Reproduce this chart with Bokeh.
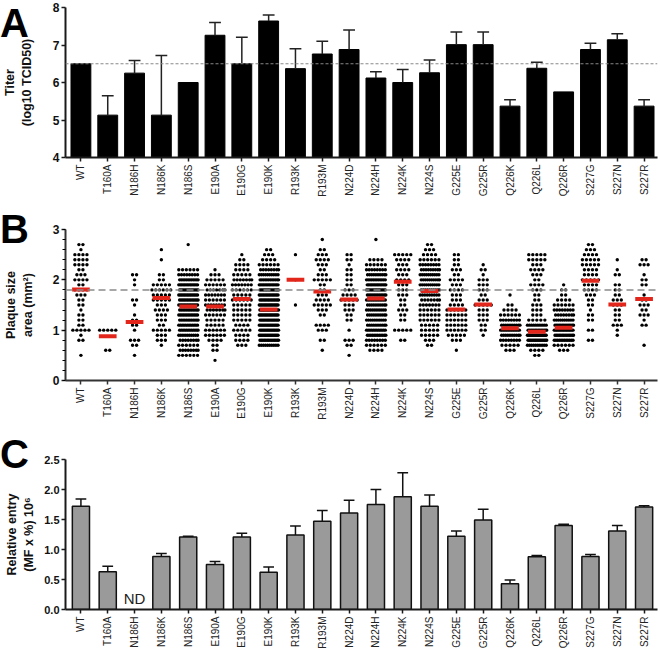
import math
from bokeh.plotting import figure
from bokeh.models import Span, Label, FixedTicker, SingleIntervalTicker, PrintfTickFormatter, Range1d, Div
from bokeh.layouts import column
from bokeh.embed import file_html
from bokeh.resources import INLINE

# ---------------- data ----------------
categories = ["WT", "T160A", "N186H", "N186K", "N186S", "E190A", "E190G", "E190K",
              "R193K", "R193M", "N224D", "N224H", "N224K", "N224S", "G225E", "G225R",
              "Q226K", "Q226L", "Q226R", "S227G", "S227N", "S227R"]

# Panel A: titer (log10 TCID50), mean and upper SD
titer_mean = [6.50, 5.13, 6.25, 5.13, 6.00, 7.26, 6.50, 7.64, 6.37, 6.76, 6.88,
              6.12, 6.00, 6.26, 7.01, 7.01, 5.37, 6.38, 5.75, 6.88, 7.14, 5.37]
titer_err = [0.00, 0.52, 0.34, 1.59, 0.00, 0.34, 0.71, 0.16, 0.53, 0.34, 0.52,
             0.17, 0.35, 0.34, 0.34, 0.34, 0.17, 0.16, 0.00, 0.17, 0.16, 0.17]
titer_wt_line = 6.5

# Panel B: plaque size area (mm^2); counts of plaques per 0.1 mm^2 row value
plaque_median = [1.81, 0.88, 1.16, 1.64, 1.47, 1.47, 1.62, 1.41, 2.00, 1.77, 1.61,
                 1.63, 1.96, 1.78, 1.41, 1.51, 1.04, 0.97, 1.05, 1.98, 1.51, 1.62]
plaque_wt_line = 1.8
plaque_WT = {2.7: 2, 2.6: 1, 2.5: 4, 2.4: 4, 2.3: 4, 2.2: 2, 2.1: 3, 2.0: 4, 1.9: 2, 1.8: 4, 1.7: 3,
             1.6: 2, 1.5: 2, 1.4: 1, 1.3: 2, 1.2: 2, 1.1: 2, 1.0: 5, 0.9: 1, 0.8: 2, 0.5: 1}
plaque_T160A = {1.0: 5, 0.6: 2}
plaque_N186H = {2.1: 2, 2.0: 1, 1.9: 1, 1.6: 2, 1.5: 1, 1.3: 1, 1.2: 2, 1.1: 2, 1.0: 1, 0.8: 3, 0.7: 2, 0.5: 1}
plaque_N186K = {2.6: 1, 2.4: 1, 2.1: 2, 2.0: 2, 1.9: 5, 1.8: 6, 1.7: 5, 1.6: 5, 1.5: 3, 1.4: 4, 1.3: 3,
                1.2: 3, 1.1: 2, 1.0: 5, 0.9: 3, 0.8: 3, 0.7: 1}
plaque_N186S = {2.7: 1, 2.2: 6, 2.1: 8, 2.0: 12, 1.9: 14, 1.8: 14, 1.7: 14, 1.6: 13, 1.5: 14, 1.4: 12,
                1.3: 13, 1.2: 12, 1.1: 12, 1.0: 12, 0.9: 10, 0.8: 8, 0.7: 6, 0.6: 8, 0.5: 6}
plaque_E190A = {2.2: 1, 2.1: 3, 2.0: 5, 1.9: 6, 1.8: 7, 1.7: 7, 1.6: 6, 1.5: 8, 1.4: 7, 1.3: 6, 1.2: 5,
                1.1: 5, 1.0: 6, 0.9: 6, 0.8: 4, 0.7: 2, 0.6: 2, 0.4: 1}
plaque_E190G = {2.5: 1, 2.4: 2, 2.3: 4, 2.2: 4, 2.1: 5, 2.0: 7, 1.9: 7, 1.8: 6, 1.7: 5, 1.6: 6, 1.5: 5,
                1.4: 5, 1.3: 5, 1.2: 5, 1.1: 4, 1.0: 5, 0.9: 4, 0.8: 4, 0.7: 3}
plaque_E190K = {2.6: 2, 2.5: 3, 2.4: 4, 2.3: 6, 2.2: 8, 2.1: 10, 2.0: 12, 1.9: 14, 1.8: 14, 1.7: 14,
                1.6: 14, 1.5: 16, 1.4: 16, 1.3: 16, 1.2: 16, 1.1: 16, 1.0: 16, 0.9: 16, 0.8: 14, 0.7: 10}
plaque_R193K = {2.5: 1, 2.0: 1, 1.5: 1}
plaque_R193M = {2.8: 1, 2.6: 2, 2.5: 3, 2.4: 4, 2.3: 3, 2.2: 2, 2.1: 3, 2.0: 5, 1.9: 2, 1.8: 2, 1.7: 3,
                1.6: 4, 1.5: 5, 1.4: 3, 1.3: 2, 1.1: 4, 1.0: 3, 0.8: 2, 0.6: 1}
plaque_N224D = {2.5: 2, 2.4: 2, 2.3: 1, 2.2: 2, 2.1: 2, 2.0: 2, 1.9: 2, 1.8: 3, 1.7: 4, 1.6: 5, 1.5: 3,
                1.4: 3, 1.3: 2, 1.2: 2, 1.0: 1, 0.8: 3, 0.7: 2, 0.5: 1}
plaque_N224H = {2.8: 1, 2.4: 4, 2.3: 6, 2.2: 8, 2.1: 10, 2.0: 12, 1.9: 14, 1.8: 14, 1.7: 12, 1.6: 12,
                1.5: 10, 1.4: 10, 1.3: 10, 1.2: 10, 1.1: 10, 1.0: 12, 0.9: 12, 0.8: 8, 0.7: 6, 0.6: 4}
plaque_N224K = {2.5: 5, 2.4: 4, 2.3: 3, 2.2: 4, 2.1: 3, 2.0: 4, 1.9: 3, 1.8: 3, 1.7: 3, 1.6: 2, 1.5: 2,
                1.4: 3, 1.3: 2, 1.2: 2, 1.0: 5, 0.8: 2}
plaque_N224S = {2.7: 2, 2.6: 3, 2.5: 4, 2.4: 6, 2.3: 8, 2.2: 9, 2.1: 10, 2.0: 10, 1.9: 10, 1.8: 10,
                1.7: 9, 1.6: 7, 1.5: 7, 1.4: 6, 1.3: 6, 1.2: 6, 1.1: 5, 1.0: 5, 0.9: 5, 0.8: 3, 0.7: 2}
plaque_G225E = {2.5: 2, 2.4: 2, 2.3: 2, 2.2: 3, 2.1: 2, 2.0: 4, 1.9: 3, 1.8: 4, 1.7: 3, 1.6: 3, 1.5: 4,
                1.4: 6, 1.3: 6, 1.2: 6, 1.1: 6, 1.0: 6, 0.9: 5, 0.8: 3, 0.6: 1}
plaque_G225R = {2.3: 1, 2.2: 2, 2.1: 1, 2.0: 3, 1.9: 3, 1.8: 3, 1.7: 2, 1.6: 3, 1.5: 5, 1.4: 3, 1.3: 3,
                1.2: 3, 1.1: 2, 1.0: 2, 0.9: 1}
plaque_Q226K = {1.7: 1, 1.5: 2, 1.4: 4, 1.3: 6, 1.2: 8, 1.1: 10, 1.0: 12, 0.9: 10, 0.8: 8, 0.7: 5, 0.6: 3}
plaque_Q226L = {2.5: 5, 2.4: 5, 2.3: 3, 2.2: 4, 2.1: 3, 2.0: 2, 1.9: 4, 1.8: 3, 1.7: 2, 1.6: 2, 1.5: 3,
                1.4: 3, 1.3: 3, 1.2: 5, 1.1: 10, 1.0: 14, 0.9: 20, 0.8: 16, 0.7: 10, 0.6: 4, 0.5: 2}
plaque_Q226R = {1.9: 1, 1.8: 2, 1.7: 2, 1.6: 4, 1.5: 6, 1.4: 8, 1.3: 8, 1.2: 10, 1.1: 14, 1.0: 14,
                0.9: 14, 0.8: 12, 0.7: 6, 0.6: 3}
plaque_S227G = {2.7: 2, 2.6: 3, 2.5: 4, 2.4: 5, 2.3: 5, 2.2: 4, 2.1: 4, 2.0: 5, 1.9: 4, 1.8: 4, 1.7: 3,
                1.6: 2, 1.5: 2, 1.4: 1, 1.3: 2, 1.2: 2, 1.0: 2, 0.8: 2}
plaque_S227N = {2.4: 1, 2.2: 1, 2.1: 2, 1.9: 2, 1.8: 2, 1.7: 2, 1.6: 3, 1.5: 3, 1.4: 2, 1.3: 2, 1.2: 2,
                1.1: 3, 1.0: 1, 0.9: 1}
plaque_S227R = {2.4: 2, 2.3: 3, 2.1: 1, 2.0: 2, 1.9: 2, 1.7: 1, 1.6: 2, 1.5: 3, 1.4: 2, 1.3: 3, 1.2: 1,
                1.1: 2, 0.7: 1}
plaque_counts = [plaque_WT, plaque_T160A, plaque_N186H, plaque_N186K, plaque_N186S, plaque_E190A,
                 plaque_E190G, plaque_E190K, plaque_R193K, plaque_R193M, plaque_N224D, plaque_N224H,
                 plaque_N224K, plaque_N224S, plaque_G225E, plaque_G225R, plaque_Q226K, plaque_Q226L,
                 plaque_Q226R, plaque_S227G, plaque_S227N, plaque_S227R]

# Panel C: relative entry (MF x %) 10^6; N186H not determined
entry_mean = [1.72, 0.63, None, 0.885, 1.21, 0.75, 1.21, 0.62, 1.24, 1.47, 1.61,
              1.75, 1.88, 1.72, 1.22, 1.49, 0.43, 0.88, 1.40, 0.885, 1.31, 1.71]
entry_err = [0.12, 0.09, None, 0.05, 0.01, 0.05, 0.06, 0.09, 0.15, 0.18, 0.21,
             0.25, 0.40, 0.19, 0.09, 0.18, 0.06, 0.02, 0.02, 0.03, 0.09, 0.02]

# ---------------- layout helpers ----------------
FONT = "Liberation Sans"
W = 660
LEFT = 62
RIGHT = 3
n = len(categories)
idx = list(range(n))
X0, X1 = -0.575, n - 0.5


def make_fig(height, top, bottom, y0, y1, label_standoff):
    p = figure(width=W, height=height, output_backend="svg", toolbar_location=None,
               x_range=Range1d(X0, X1), y_range=Range1d(y0, y1),
               min_border_left=LEFT, min_border_right=RIGHT,
               min_border_top=top, min_border_bottom=bottom)
    p.outline_line_color = None
    p.border_fill_color = None
    p.background_fill_color = None
    p.xgrid.visible = False
    p.ygrid.visible = False
    xa = p.xaxis[0]
    xa.ticker = FixedTicker(ticks=idx)
    xa.major_label_overrides = {i: c for i, c in enumerate(categories)}
    xa.major_label_orientation = math.pi / 2
    xa.major_label_text_font = FONT
    xa.major_label_text_font_size = "10px"
    xa.major_label_text_color = "#222222"
    xa.major_label_standoff = 3
    ya = p.yaxis[0]
    ya.major_label_text_font = FONT
    ya.major_label_text_font_style = "bold"
    ya.major_label_text_font_size = "12px"
    ya.major_label_text_color = "#111111"
    ya.major_label_standoff = 2
    ya.axis_label_text_font = FONT
    ya.axis_label_text_font_style = "bold"
    ya.axis_label_text_font_size = "12.5px"
    ya.axis_label_text_color = "#111111"
    ya.axis_label_standoff = label_standoff
    for ax in (xa, ya):
        ax.axis_line_width = 2
        ax.axis_line_color = "#1a1a1a"
        ax.major_tick_line_width = 1.5
        ax.major_tick_line_color = "#1a1a1a"
        ax.major_tick_in = 0
        ax.major_tick_out = 4
        ax.minor_tick_in = 0
    return p


def panel_letter(text, top):
    return Div(text=text, width=44, height=46, margin=(top, 0, -(top + 46), 0),
               styles={"font-family": FONT, "font-size": "40px", "font-weight": "bold",
                       "line-height": "46px", "color": "black", "position": "relative",
                       "z-index": "5"})


# ---------------- Panel A ----------------
pa = make_fig(205, 7, 48, 4, 8, 16)
pa.yaxis[0].ticker = SingleIntervalTicker(interval=1, num_minor_ticks=0)
pa.yaxis[0].axis_label = "Titer\n(log10 TCID50)"
pa.vbar(x=idx, top=titer_mean, bottom=4, width=0.74, fill_color="black", line_color="black")
ea = [i for i in idx if titer_err[i] > 0]
pa.segment(x0=ea, y0=[titer_mean[i] for i in ea], x1=ea,
           y1=[titer_mean[i] + titer_err[i] for i in ea], line_color="#222222", line_width=1.5)
pa.segment(x0=[i - 0.22 for i in ea], y0=[titer_mean[i] + titer_err[i] for i in ea],
           x1=[i + 0.22 for i in ea], y1=[titer_mean[i] + titer_err[i] for i in ea],
           line_color="#222222", line_width=1.5)
pa.add_layout(Span(location=titer_wt_line, dimension="width", line_color="#888888",
                   line_dash="3 2", line_width=1))

# ---------------- Panel B ----------------
pb = make_fig(223, 24, 48, 0, 3, 15)
pb.yaxis[0].ticker = SingleIntervalTicker(interval=1, num_minor_ticks=5)
pb.yaxis[0].minor_tick_out = 3
pb.yaxis[0].minor_tick_line_width = 1.2
pb.yaxis[0].axis_label = "Plaque size\narea (mm\u00b2)"
for ax in (pb.xaxis[0], pb.yaxis[0]):
    ax.axis_line_color = "#333333"
    ax.major_tick_line_color = "#333333"
pb.add_layout(Span(location=plaque_wt_line, dimension="width", line_color="#8a8a8a",
                   line_dash="7 4", line_width=1.5))
xs, ys = [], []
for i, counts in enumerate(plaque_counts):
    for r, (v, c) in enumerate(sorted(counts.items())):
        s = min(0.15, 0.7 / (c - 1)) if c > 1 else 0.0
        shift = (s / 2) if (r % 2 == 1 and c > 6) else 0.0
        for k in range(c):
            off = (k - (c - 1) / 2) * s + shift
            off = max(-0.37, min(0.37, off))
            xs.append(i + off)
            ys.append(v)
pb.scatter(x=xs, y=ys, size=3.4, fill_color="black", line_color=None)
pb.segment(x0=[i - 0.33 for i in idx], y0=plaque_median, x1=[i + 0.33 for i in idx],
           y1=plaque_median, line_color="#e3261b", line_width=4)

# ---------------- Panel C ----------------
pc = make_fig(226, 31, 45, 0, 2.5, 5)
pc.yaxis[0].ticker = SingleIntervalTicker(interval=0.5, num_minor_ticks=0)
pc.yaxis[0].formatter = PrintfTickFormatter(format="%.1f")
pc.yaxis[0].major_label_text_font_size = "11px"
pc.yaxis[0].axis_label = "Relative entry\n(MF x %) 10\u2076"
ci = [i for i in idx if entry_mean[i] is not None]
pc.vbar(x=ci, top=[entry_mean[i] for i in ci], bottom=0, width=0.64,
        fill_color="#9a9a9a", line_color="#111111", line_width=1.5)
pc.segment(x0=ci, y0=[entry_mean[i] for i in ci], x1=ci,
           y1=[entry_mean[i] + entry_err[i] for i in ci], line_color="#111111", line_width=1.5)
pc.segment(x0=[i - 0.2 for i in ci], y0=[entry_mean[i] + entry_err[i] for i in ci],
           x1=[i + 0.2 for i in ci], y1=[entry_mean[i] + entry_err[i] for i in ci],
           line_color="#111111", line_width=1.5)
nd = [i for i in idx if entry_mean[i] is None]
for i in nd:
    pc.add_layout(Label(x=i, y=0.05, text="ND", text_font=FONT, text_font_size="15px",
                        text_color="#222222", text_align="center", text_baseline="bottom"))

layout = column(panel_letter("A", 0), pa, panel_letter("B", 1), pb, panel_letter("C", 3), pc,
                spacing=0)
open("out.html", "w").write(file_html(layout, INLINE))
